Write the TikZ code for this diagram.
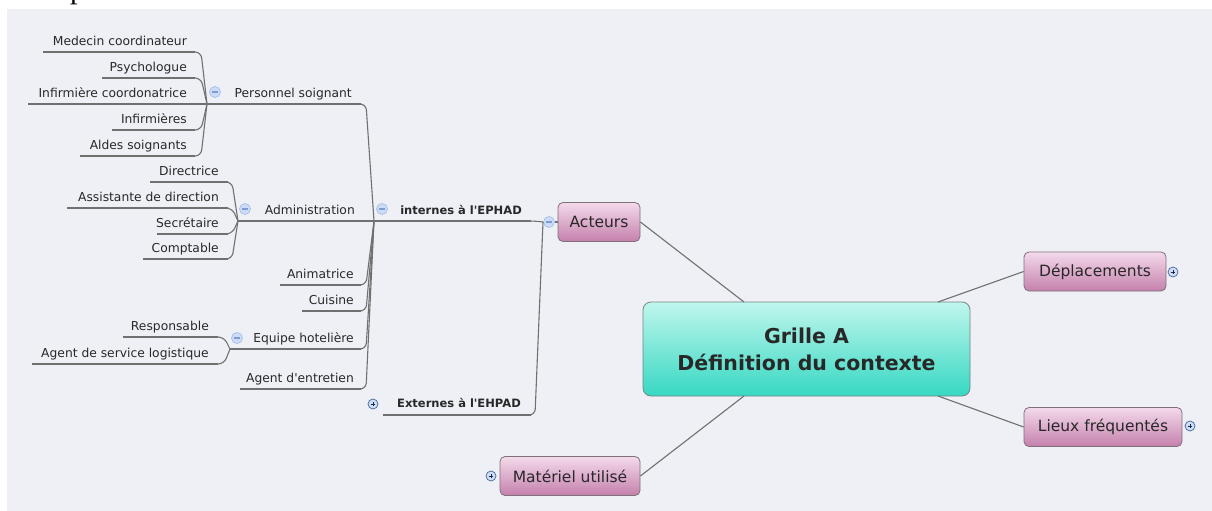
\documentclass[tikz,border=0pt]{standalone}
\usepackage{fontspec}
\setmainfont{DejaVu Sans}
\newfontfamily\pfont{Liberation Serif}
\definecolor{bgpanel}{RGB}{238,240,246}
\definecolor{linec}{RGB}{112,112,112}
\definecolor{txt}{RGB}{40,40,40}
\definecolor{pinktop}{RGB}{244,218,235}
\definecolor{pinkbot}{RGB}{196,128,172}
\definecolor{pinkborder}{RGB}{128,112,122}
\definecolor{tealtop}{RGB}{192,246,237}
\definecolor{tealbot}{RGB}{54,216,194}
\definecolor{tealborder}{RGB}{118,132,130}
\definecolor{minusfill}{RGB}{204,220,246}
\definecolor{minusedge}{RGB}{165,190,230}
\definecolor{minussign}{RGB}{125,155,212}
\definecolor{plusfill}{RGB}{205,222,245}
\definecolor{plusedge}{RGB}{70,100,160}
\definecolor{plussign}{RGB}{30,40,70}
\tikzset{
  leaf/.style={font=\fontsize{12.3}{14}\selectfont, text=txt, inner sep=0pt, anchor=base east},
  boldleaf/.style={leaf, font=\fontsize{11.5}{14}\selectfont\bfseries},
  uline/.style={draw=linec, line width=1.1pt},
  conn/.style={draw=linec, line width=1.1pt, rounded corners=6pt},
  pinkbox/.style={draw=pinkborder, line width=0.8pt, rounded corners=5pt, top color=pinktop, bottom color=pinkbot, minimum height=39pt, text=txt, font=\fontsize{15.5}{18}\selectfont, inner sep=0pt},
  mainbox/.style={draw=tealborder, line width=0.8pt, rounded corners=8pt, top color=tealtop, bottom color=tealbot, minimum width=327pt, minimum height=94pt, text=txt, font=\fontsize{20.5}{27}\selectfont\bfseries, align=center, inner sep=0pt},
  minusic/.style={circle, draw=minusedge, fill=minusfill, minimum size=11pt, inner sep=0pt, line width=0.7pt,
    path picture={\draw[minussign, line width=1.1pt] ([xshift=-2.6pt]path picture bounding box.center) -- ([xshift=2.6pt]path picture bounding box.center);}},
  plusic/.style={circle, draw=plusedge, fill=plusfill, minimum size=10pt, inner sep=0pt, line width=0.7pt,
    path picture={\draw[plussign, line width=0.8pt] ([xshift=-2.4pt]path picture bounding box.center) -- ([xshift=2.4pt]path picture bounding box.center) ([yshift=-2.4pt]path picture bounding box.center) -- ([yshift=2.4pt]path picture bounding box.center);}}
}
\begin{document}
\begin{tikzpicture}[x=1pt,y=-1pt]
\useasboundingbox (0,0) rectangle (1212,511);
\fill[white] (0,0) rectangle (1212,511);
\fill[bgpanel] (7,9) rectangle (1212,511);
\begin{scope}
\clip (0,0) rectangle (1212,9);
\node[font=\pfont\fontsize{30}{30}\selectfont, anchor=base west, inner sep=0pt] (pfrag) at (70,-1) {p};
\end{scope}

% ---------- central and first-level nodes
\node[mainbox] (main) at (806.5,349) {Grille A\\Définition du contexte};
\node[pinkbox, minimum width=82pt] (act) at (599,222) {Acteurs};
\node[pinkbox, minimum width=142pt] (dep) at (1095,271.5) {Déplacements};
\node[pinkbox, minimum width=158pt] (lieux) at (1103,427) {Lieux fréquentés};
\node[pinkbox, minimum width=140pt] (mat) at (570,476) {Matériel utilisé};

\coordinate (mTL) at (744,302);
\coordinate (mBL) at (744,396);
\coordinate (mTR) at (938,302);
\coordinate (mBR) at (938,396);
\draw[uline] (act.east) -- (mTL);
\draw[uline] (mat.east) -- (mBL);
\draw[uline] (dep.west) -- (mTR);
\draw[uline] (lieux.west) -- (mBR);

\node[plusic] (depI) at (1173,272) {};
\node[plusic] (lieuxI) at (1190,426) {};
\node[plusic] (matI) at (491,476) {};

% ---------- Acteurs children
\coordinate (actJ) at (543,222);
\coordinate (actS) at (535,222);
\node[minusic] (actI) at (549,222) {};
\draw[uline] (actI) -- (act.west);

\node[boldleaf] (int) at (522,214.5) {internes à l\textquotesingle EPHAD};
\node[minusic] (intI) at (382,209) {};
\coordinate (intJ) at (374,221);
\coordinate (intS) at (366,221);
\coordinate (intR) at (531,221);
\draw[uline] (intJ) -- (intR);
\draw[conn] (intR) -- (actS |- intR) -- (actJ);

\node[boldleaf] (ext) at (521,407.5) {Externes à l\textquotesingle EHPAD};
\node[plusic] (extI) at (373,404) {};
\coordinate (extL) at (383,415);
\coordinate (extR) at (531,415);
\draw[uline] (extL) -- (extR);
\draw[conn] (extR) -- (actS |- extR) -- (actJ);

% ---------- internes children
% Personnel soignant
\node[leaf] (ps) at (352,97.5) {Personnel soignant};
\node[minusic] (psI) at (215,92) {};
\coordinate (psJ) at (207,104);
\coordinate (psS) at (201,104);
\coordinate (psR) at (361,104);
\draw[uline] (psJ) -- (psR);
\draw[conn] (psR) -- (intS |- psR) -- (intJ);

% Administration
\node[leaf] (adm) at (355,214.5) {Administration};
\node[minusic] (admI) at (245,209) {};
\coordinate (admJ) at (238,221);
\coordinate (admS) at (232,221);
\coordinate (admR) at (361,221);
\draw[uline] (admJ) -- (admR);
\draw[conn] (admR) -- (intS |- admR) -- (intJ);

% Animatrice
\node[leaf] (anim) at (354,278.5) {Animatrice};
\coordinate (animL) at (280,285);
\coordinate (animR) at (361,285);
\draw[uline] (animL) -- (animR);
\draw[conn] (animR) -- (intS |- animR) -- (intJ);

% Cuisine
\node[leaf] (cuis) at (354,304.5) {Cuisine};
\coordinate (cuisL) at (302,311);
\coordinate (cuisR) at (361,311);
\draw[uline] (cuisL) -- (cuisR);
\draw[conn] (cuisR) -- (intS |- cuisR) -- (intJ);

% Equipe hoteliere
\node[leaf] (equ) at (354,342.5) {Equipe hotelière};
\node[minusic] (equI) at (237,338) {};
\coordinate (equJ) at (230,349);
\coordinate (equS) at (224,349);
\coordinate (equR) at (361,349);
\draw[uline] (equJ) -- (equR);
\draw[conn] (equR) -- (intS |- equR) -- (intJ);

% Agent d'entretien
\node[leaf] (ent) at (354,382.5) {Agent d\textquotesingle entretien};
\coordinate (entL) at (240,389);
\coordinate (entR) at (361,389);
\draw[uline] (entL) -- (entR);
\draw[conn] (entR) -- (intS |- entR) -- (intJ);

% ---------- Personnel soignant leaves
\node[leaf] (med) at (187,45.5) {Medecin coordinateur};
\coordinate (medL) at (43,52);
\coordinate (medR) at (195,52);
\node[leaf] (psy) at (187,71.5) {Psychologue};
\coordinate (psyL) at (102,78);
\coordinate (psyR) at (195,78);
\node[leaf] (icoo) at (187,97.5) {Infirmière coordonatrice};
\coordinate (icooL) at (28,104);
\coordinate (icooR) at (195,104);
\node[leaf] (inf) at (187,123.5) {Infirmières};
\coordinate (infL) at (112,130);
\coordinate (infR) at (195,130);
\node[leaf] (aid) at (187,149.5) {Aldes soignants};
\coordinate (aidL) at (80,156);
\coordinate (aidR) at (195,156);
\foreach \n in {med,psy,icoo,inf,aid}{
  \draw[uline] (\n L) -- (\n R);
  \draw[conn] (\n R) -- (psS |- \n R) -- (psJ);
}

% ---------- Administration leaves
\node[leaf] (dir) at (219,175.5) {Directrice};
\coordinate (dirL) at (150,182);
\coordinate (dirR) at (228,182);
\node[leaf] (ass) at (219,201.5) {Assistante de direction};
\coordinate (assL) at (67,208);
\coordinate (assR) at (228,208);
\node[leaf] (sec) at (219,227.5) {Secrétaire};
\coordinate (secL) at (157,234);
\coordinate (secR) at (228,234);
\node[leaf] (cpt) at (219,252.5) {Comptable};
\coordinate (cptL) at (143,259);
\coordinate (cptR) at (228,259);
\foreach \n in {dir,ass,sec,cpt}{
  \draw[uline] (\n L) -- (\n R);
  \draw[conn] (\n R) -- (admS |- \n R) -- (admJ);
}

% ---------- Equipe hoteliere leaves
\node[leaf] (resp) at (209,330.5) {Responsable};
\coordinate (respL) at (123,337);
\coordinate (respR) at (218,337);
\node[leaf] (asl) at (209,357.5) {Agent de service logistique};
\coordinate (aslL) at (32,364);
\coordinate (aslR) at (218,364);
\foreach \n in {resp,asl}{
  \draw[uline] (\n L) -- (\n R);
  \draw[conn] (\n R) -- (equS |- \n R) -- (equJ);
}
\end{tikzpicture}
\end{document}
